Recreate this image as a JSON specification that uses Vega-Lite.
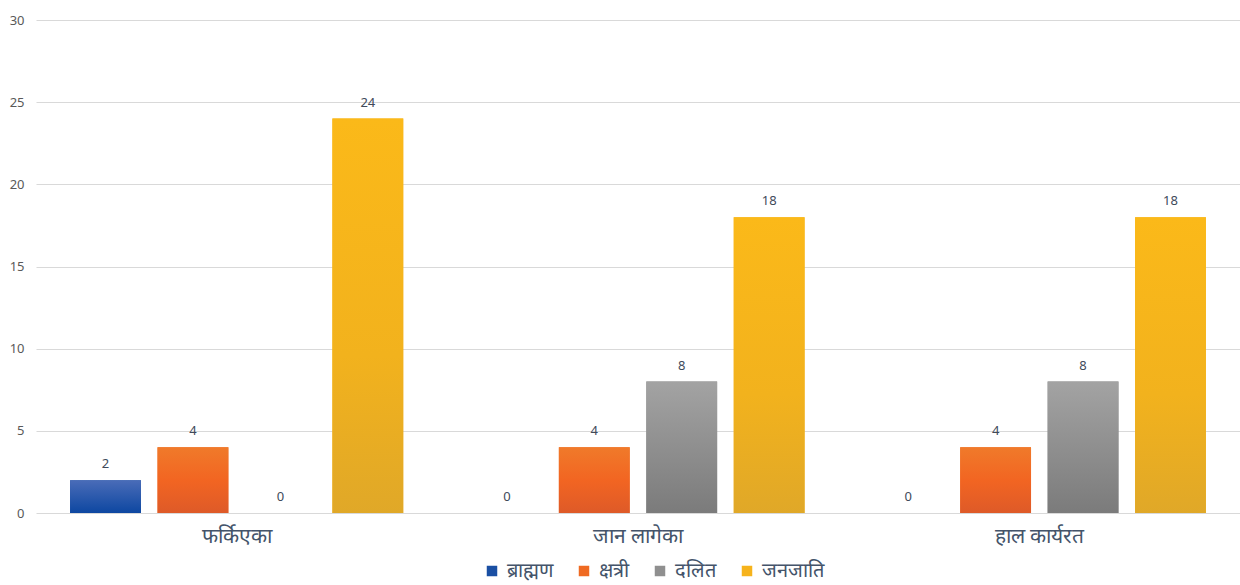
{
  "$schema": "https://vega.github.io/schema/vega-lite/v6.json",
  "width": 1204,
  "height": 493,
  "autosize": {"type": "none"},
  "padding": {"left": 36, "top": 20, "right": 0, "bottom": 72},
  "background": "white",
  "config": {
    "view": {"stroke": null},
    "font": "Noto Sans"
  },
  "data": {
    "values": [
      {"group": "फर्किएका", "caste": "ब्राह्मण", "value": 2},
      {"group": "फर्किएका", "caste": "क्षत्री", "value": 4},
      {"group": "फर्किएका", "caste": "दलित", "value": 0},
      {"group": "फर्किएका", "caste": "जनजाति", "value": 24},
      {"group": "जान लागेका", "caste": "ब्राह्मण", "value": 0},
      {"group": "जान लागेका", "caste": "क्षत्री", "value": 4},
      {"group": "जान लागेका", "caste": "दलित", "value": 8},
      {"group": "जान लागेका", "caste": "जनजाति", "value": 18},
      {"group": "हाल कार्यरत", "caste": "ब्राह्मण", "value": 0},
      {"group": "हाल कार्यरत", "caste": "क्षत्री", "value": 4},
      {"group": "हाल कार्यरत", "caste": "दलित", "value": 8},
      {"group": "हाल कार्यरत", "caste": "जनजाति", "value": 18}
    ]
  },
  "encoding": {
    "x": {
      "field": "group", "type": "nominal",
      "sort": ["फर्किएका", "जान लागेका", "हाल कार्यरत"],
      "scale": {"paddingInner": 0, "paddingOuter": 0},
      "axis": {"title": null, "domain": false, "ticks": false, "labelAngle": 0, "labelFontSize": 21, "labelColor": "#44546a", "labelPadding": 12, "labelFont": "Noto Serif"}
    },
    "xOffset": {
      "field": "caste", "type": "nominal",
      "scale": {"domain": ["ब्राह्मण", "क्षत्री", "दलित", "जनजाति"], "paddingInner": 0.19, "paddingOuter": 0.39}
    },
    "y": {
      "field": "value", "type": "quantitative",
      "scale": {"domain": [0, 30], "nice": false},
      "axis": {"title": null, "values": [0, 5, 10, 15, 20, 25, 30], "domain": false, "ticks": false, "gridColor": "#d9d9d9", "gridWidth": 1, "labelFontSize": 13, "labelColor": "#595959", "labelPadding": 12}
    }
  },
  "layer": [
    {
      "mark": {"type": "bar"},
      "encoding": {
        "color": {
          "field": "caste", "type": "nominal",
          "scale": {"domain": ["ब्राह्मण", "क्षत्री", "दलित", "जनजाति"], "range": ["#1a4fa3", "#ef6a22", "#8f8f8f", "#f6b31c"]},
          "legend": {"title": null, "orient": "none", "legendX": 446, "legendY": 541, "direction": "horizontal", "symbolType": "square", "symbolSize": 110, "symbolStrokeWidth": 0, "symbolOffset": 0, "labelOffset": 5, "labelFontSize": 20, "labelColor": "#44546a", "labelFont": "Noto Serif", "columnPadding": 21}
        }
      }
    },
    {
      "transform": [{"filter": "datum.caste === 'ब्राह्मण'"}],
      "mark": {"type": "bar", "color": {"gradient": "linear", "x1": 0, "y1": 0, "x2": 0, "y2": 1, "stops": [{"offset": 0, "color": "#4a6cb8"}, {"offset": 1, "color": "#0d47a1"}]}}
    },
    {
      "transform": [{"filter": "datum.caste === 'क्षत्री'"}],
      "mark": {"type": "bar", "color": {"gradient": "linear", "x1": 0, "y1": 0, "x2": 0, "y2": 1, "stops": [{"offset": 0, "color": "#f07a2a"}, {"offset": 0.5, "color": "#f26522"}, {"offset": 1, "color": "#de5a28"}]}}
    },
    {
      "transform": [{"filter": "datum.caste === 'दलित'"}],
      "mark": {"type": "bar", "color": {"gradient": "linear", "x1": 0, "y1": 0, "x2": 0, "y2": 1, "stops": [{"offset": 0, "color": "#a3a3a3"}, {"offset": 1, "color": "#7b7b7b"}]}}
    },
    {
      "transform": [{"filter": "datum.caste === 'जनजाति'"}],
      "mark": {"type": "bar", "color": {"gradient": "linear", "x1": 0, "y1": 0, "x2": 0, "y2": 1, "stops": [{"offset": 0, "color": "#fbb919"}, {"offset": 0.6, "color": "#f2b21d"}, {"offset": 1, "color": "#e0a828"}]}}
    },
    {
      "mark": {"type": "text", "baseline": "bottom", "dy": -9, "fontSize": 13, "color": "#404a5a"},
      "encoding": {"text": {"field": "value", "type": "quantitative"}}
    }
  ]
}
